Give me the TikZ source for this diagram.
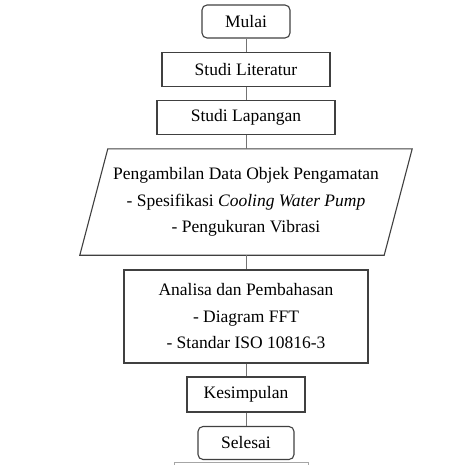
\documentclass[tikz,border=0pt]{standalone}
\usepackage{fontspec}
\setmainfont{Liberation Serif}
\usetikzlibrary{calc}

\tikzset{
  terminal/.style={draw=black!75, line width=1.1pt, rounded corners=5pt, minimum height=33pt, inner sep=0pt},
  process/.style={draw=black!75, line width=1.1pt, minimum height=34pt, inner sep=0pt},
  flowline/.style={draw=black!55, line width=0.8pt}
}

\begin{document}
\begin{tikzpicture}[x=1pt, y=-1pt, font=\fontsize{17.5}{26.5}\selectfont, align=center]
  %%%%% START %%%%%
  \useasboundingbox (0,0) rectangle (476,464);

  \node[terminal, minimum width=88pt] (mulai) at (246, 21.5) {Mulai};
  \node[process, minimum width=168pt] (literatur) at (246, 69.5) {Studi Literatur};
  \node[process, minimum width=178pt] (lapangan) at (246, 117.5) {Studi Lapangan};

  % data (parallelogram)
  \node[minimum width=304pt, minimum height=106pt, inner sep=0pt] (data) at (246, 202)
    {Pengambilan Data Objek Pengamatan\\
     - Spesifikasi \textit{Cooling Water Pump}\\
     - Pengukuran Vibrasi};
  \draw[draw=black!75, line width=1.1pt]
    ($(data.north west)+(14,0)$) -- ($(data.north east)+(14,0)$) --
    ($(data.south east)+(-14,0)$) -- ($(data.south west)+(-14,0)$) -- cycle;

  \node[process, minimum width=244pt, minimum height=93pt] (analisa) at (246, 316.5)
    {Analisa dan Pembahasan\\
     - Diagram FFT\\
     - Standar ISO 10816-3};

  \node[process, minimum width=118pt, minimum height=35pt] (kesimpulan) at (246, 394.5) {Kesimpulan};
  \node[terminal, minimum width=96pt] (selesai) at (246, 443) {Selesai};

  % connectors
  \draw[flowline] (mulai) -- (literatur);
  \draw[flowline] (literatur) -- (lapangan);
  \draw[flowline] (lapangan) -- (data.north);
  \draw[flowline] (data.south) -- (analisa);
  \draw[flowline] (analisa) -- (kesimpulan);
  \draw[flowline] (kesimpulan) -- (selesai);

  % cut-off edge below
  \draw[draw=black!35, line width=0.8pt] (174, 466) -- (174, 462) -- (308, 462) -- (308, 466);
  %%%%% END %%%%%
\end{tikzpicture}
\end{document}
